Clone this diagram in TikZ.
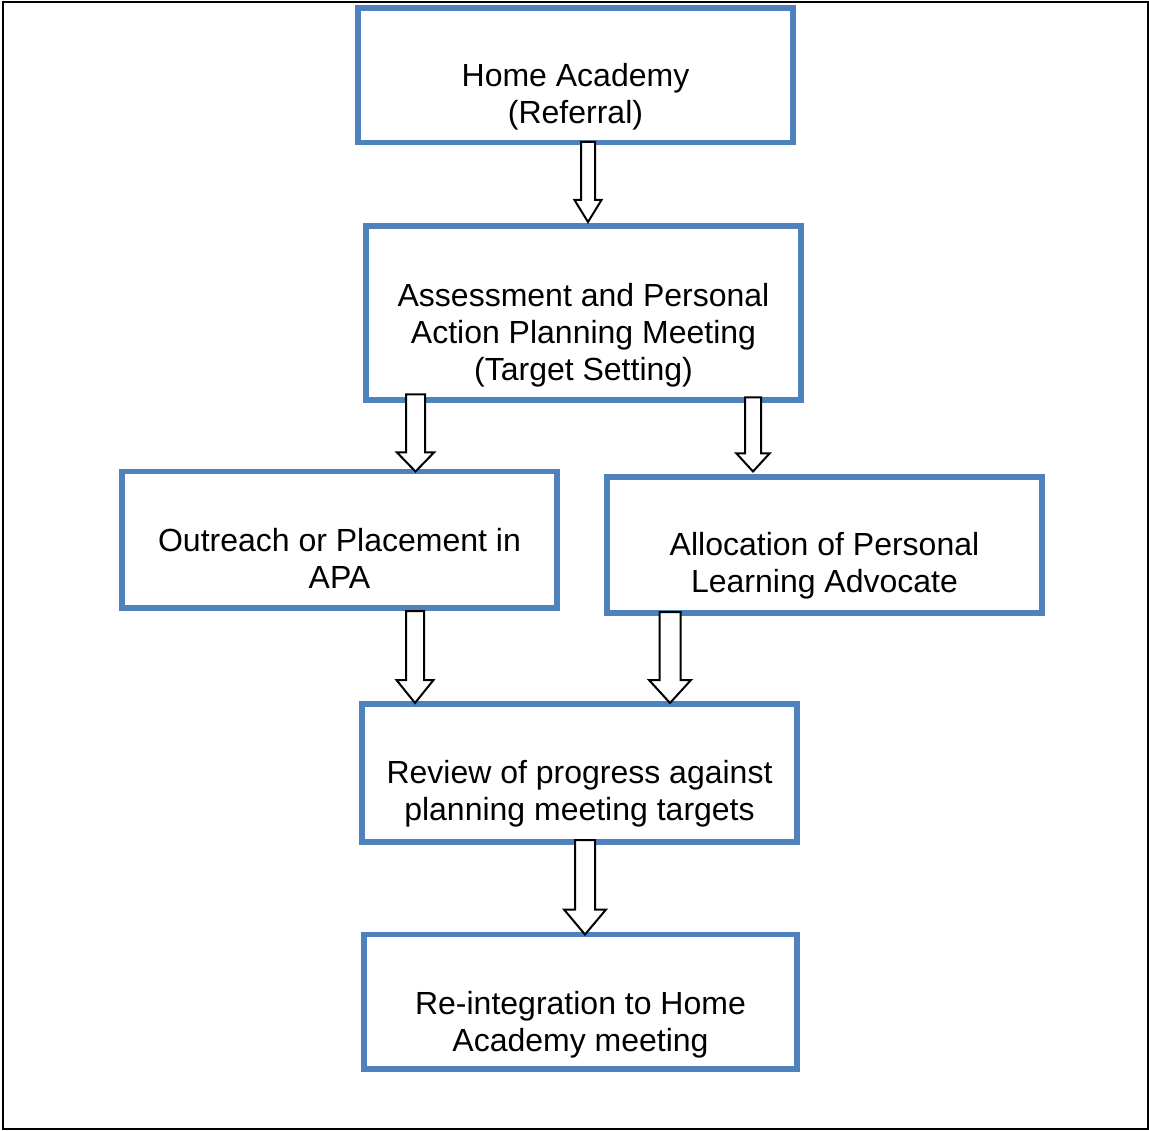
\documentclass[tikz,border=0pt]{standalone}
\usepackage{fontspec}
\setmainfont{Liberation Sans}
\usetikzlibrary{calc}
\definecolor{boxblue}{HTML}{4F81BD}
\tikzset{
  flowbox/.style={draw=boxblue, line width=5.5pt, rectangle, inner sep=0pt, outer sep=0pt, fill=white},
  flowtext/.style={align=center, inner sep=0pt, font=\fontsize{32}{37}\selectfont},
  arrowline/.style={draw=black, fill=white, line width=2pt, line join=miter},
  frame/.style={draw=black, line width=2pt}
}
\newcommand\blkarrow[8]{%
  \draw[arrowline] let \p1=(#1.south), \p2=(#2.north) in
    ({#3pt-#6pt},{\y1-(#4pt)}) -- ({#3pt+#6pt},{\y1-(#4pt)})
    -- ({#3pt+#6pt},{\y2-(#5pt)+#8pt}) -- ({#3pt+#7pt},{\y2-(#5pt)+#8pt})
    -- ({#3pt},{\y2-(#5pt)})
    -- ({#3pt-#7pt},{\y2-(#5pt)+#8pt}) -- ({#3pt-#6pt},{\y2-(#5pt)+#8pt}) -- cycle;}
\begin{document}
\begin{tikzpicture}[x=1pt, y=-1pt]
  \useasboundingbox (0,0) rectangle (1149,1131);
  \draw[frame] (3,2) rectangle (1148,1129);

  \node[flowbox, minimum width=435pt, minimum height=134.5pt] (b1) at (575.5,75.25) {};
  \node[flowbox, minimum width=435pt, minimum height=174pt] (b2) at (583.5,313) {};
  \node[flowbox, minimum width=435pt, minimum height=136.5pt] (b3) at (339.5,539.75) {};
  \node[flowbox, minimum width=435pt, minimum height=136pt] (b4) at (824.5,545) {};
  \node[flowbox, minimum width=435pt, minimum height=138pt] (b5) at (579.5,773) {};
  \node[flowbox, minimum width=433pt, minimum height=134.5pt] (b6) at (580.5,1001.75) {};

  \node[flowtext] (t1) at (575.5,97.5) {\strut Home Academy\\(Referral)\strut};
  \node[flowtext] (t2) at (583.5,336) {\strut Assessment and Personal\\Action Planning Meeting\\(Target Setting)\strut};
  \node[flowtext] (t3) at (339.5,562.5) {\strut Outreach or Placement in\\APA\strut};
  \node[flowtext] (t4) at (824.5,567) {\strut Allocation of Personal\\Learning Advocate\strut};
  \node[flowtext] (t5) at (579.5,795) {\strut Review of progress against\\planning meeting targets\strut};
  \node[flowtext] (t6) at (580.5,1025.5) {\strut Re-integration to Home\\Academy meeting\strut};

  % source, target, x, dtop, dtip, shaft half, head half, head length
  \blkarrow{b1}{b2}{588}{-0.5}{-4}{7}{13.5}{22}
  \blkarrow{b2}{b3}{415.5}{-5.5}{0}{9.5}{18.5}{19}
  \blkarrow{b2}{b4}{753}{-2.5}{-5.5}{8}{16.5}{18}
  \blkarrow{b3}{b5}{415}{3}{-1}{9}{18.5}{23}
  \blkarrow{b4}{b5}{670}{-1}{-1}{10.5}{21}{23}
  \blkarrow{b5}{b6}{585}{-2}{0}{10}{21}{25}
\end{tikzpicture}
\end{document}
